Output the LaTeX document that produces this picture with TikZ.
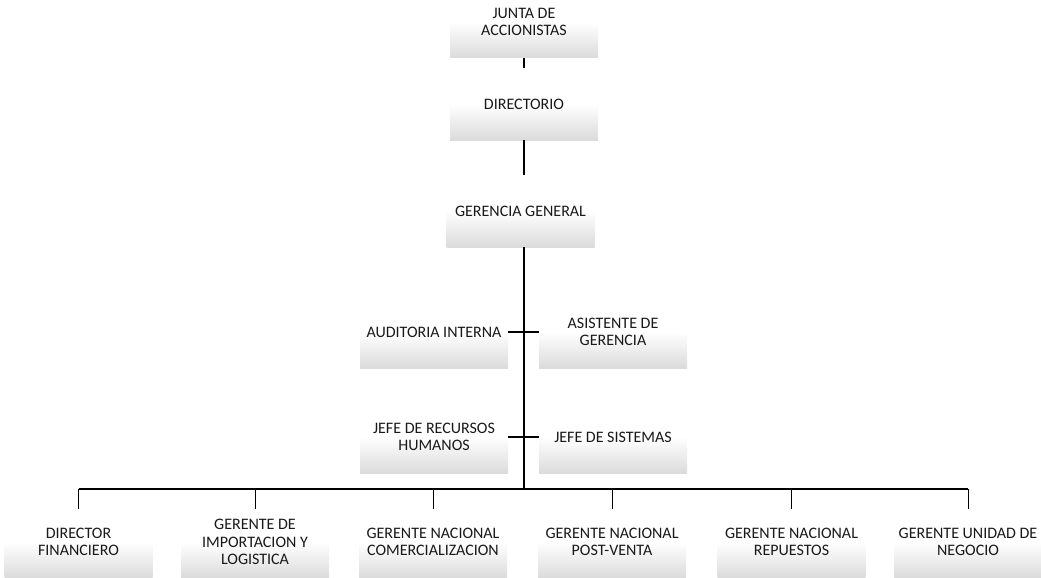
\documentclass[tikz,border=0pt]{standalone}
\usepackage{fontspec}
\setmainfont{Carlito}
\pgfdeclareverticalshading{boxshade}{100bp}{color(0bp)=(black!14); color(25bp)=(black!14); color(50bp)=(white); color(75bp)=(white); color(100bp)=(white)}
\tikzset{
  orgbox/.style={shading=boxshade, minimum width=148pt, minimum height=72pt, inner sep=0pt,
    align=center, font=\fontsize{16pt}{17.5pt}\selectfont, text=black!90},
  trunk/.style={line width=1.8pt, black},
  link/.style={line width=1.3pt, black},
  drop/.style={line width=1pt, black}
}
\begin{document}
\begin{tikzpicture}[x=1pt,y=-1pt]
\useasboundingbox (0,0) rectangle (1041,578);
\clip (0,0) rectangle (1041,578);
% top
\node[orgbox] (junta) at (524,22) {JUNTA DE\\ACCIONISTAS};
\node[orgbox] (dir) at (524,104) {DIRECTORIO};
\node[orgbox] (gg) at (520.5,211) {GERENCIA GENERAL};
% middle
\node[orgbox] (aud) at (434,332) {AUDITORIA INTERNA};
\node[orgbox] (asis) at (613,332) {ASISTENTE DE\\GERENCIA};
\node[orgbox] (rrhh) at (434,437) {JEFE DE RECURSOS\\HUMANOS};
\node[orgbox] (sist) at (613,437) {JEFE DE SISTEMAS};
% bottom
\node[orgbox] (b1) at (78.5,542) {DIRECTOR\\FINANCIERO};
\node[orgbox] (b2) at (255,542) {GERENTE DE\\IMPORTACION Y\\LOGISTICA};
\node[orgbox] (b3) at (433,542) {GERENTE NACIONAL\\COMERCIALIZACION};
\node[orgbox] (b4) at (612,542) {GERENTE NACIONAL\\POST-VENTA};
\node[orgbox] (b5) at (791.5,542) {GERENTE NACIONAL\\REPUESTOS};
\node[orgbox] (b6) at (968,542) {GERENTE UNIDAD DE\\NEGOCIO};
\coordinate (bus) at (524,489);
% connectors
\draw[trunk] (junta.south) -- (dir.north);
\draw[trunk] (dir.south) -- (dir.south |- gg.north);
\draw[trunk] (gg.south -| dir.south) -- (bus);
\draw[link] (aud.east) -- (asis.west);
\draw[link] (rrhh.east) -- (sist.west);
\draw[link] (b1.north |- bus) -- (b6.north |- bus);
\foreach \b in {b1,b2,b3,b4,b5,b6} \draw[drop] (\b.north |- bus) -- ([yshift=-3pt]\b.north);
\end{tikzpicture}
\end{document}
